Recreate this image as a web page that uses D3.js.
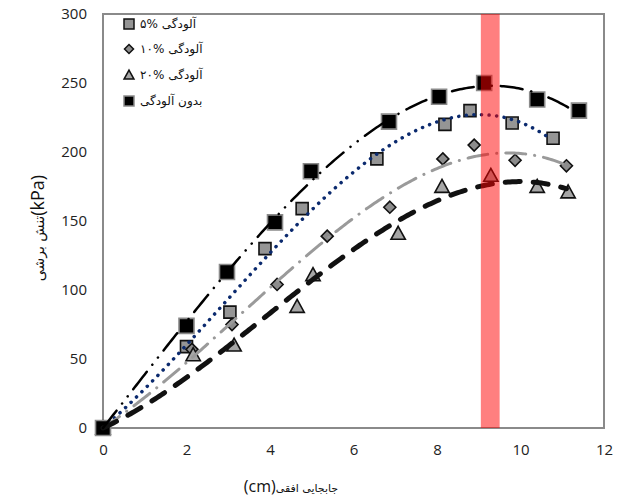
<!DOCTYPE html>
<html><head><meta charset="utf-8">
<script src="https://cdn.jsdelivr.net/npm/d3@7"></script>
<style>body{margin:0;background:#fff}</style></head>
<body><svg id="c" width="629" height="500"></svg>
<script>
const xTicks=[0,2,4,6,8,10,12];
const yTicks=[0,50,100,150,200,250,300];
// legend labels: percentage token (shown left) + words
const seriesPct=["\u06F5%","\u06F1\u06F0%","\u06F2\u06F0%",""];
const seriesWords=["\u0622\u0644\u0648\u062F\u06AF\u06CC","\u0622\u0644\u0648\u062F\u06AF\u06CC","\u0622\u0644\u0648\u062F\u06AF\u06CC","\u0628\u062F\u0648\u0646 \u0622\u0644\u0648\u062F\u06AF\u06CC"];
const x5=[0,2,3.04,3.88,4.77,6.56,8.19,8.79,9.8,10.78];
const y5=[0,59,84,130,159,195,220,230,221,210];
const x10=[0,2.13,3.09,4.17,5.37,6.87,8.14,8.89,9.87,11.1];
const y10=[0,57,75,104,139,160,195,205,194,190];
const x20=[0,2.16,3.14,4.65,5.03,7.07,8.12,9.29,10.4,11.14];
const y20=[0,53,60,88,111,141,175,183,175,171];
const x0=[0,2,2.97,4.12,4.98,6.85,8.05,9.13,10.4,11.4];
const y0=[0,74,113,149,186,222,240,250,238,230];
const band=[9.05,9.5];

const svg=d3.select("#c");
const L=103,R=604,T=14,B=428;
const x=d3.scaleLinear().domain([0,12]).range([L,R]);
const y=d3.scaleLinear().domain([0,300]).range([B,T]);
const tickFont="'Open Sans', 'Liberation Sans', sans-serif";
const faFont="'DejaVu Sans', sans-serif";

const xa=svg.append("g").attr("transform",`translate(0,${B})`)
  .call(d3.axisBottom(x).tickValues(xTicks).tickSize(0).tickPadding(16).tickFormat(d3.format("d")));
const ya=svg.append("g").attr("transform",`translate(${L},0)`)
  .call(d3.axisLeft(y).tickValues(yTicks).tickSize(0).tickPadding(16).tickFormat(d3.format("d")));
[xa,ya].forEach(a=>{a.select(".domain").remove();a.selectAll("text").attr("font-family",tickFont).attr("font-size",15).attr("fill","#222");});

svg.append("rect").attr("x",L).attr("y",T).attr("width",R-L).attr("height",B-T)
  .attr("fill","none").attr("stroke","#8a8a8a").attr("stroke-width",2);

// least-squares polynomial trendline through the origin (powers 1..deg)
function polyfit0(xs,ys,deg){
  const n=deg;const A=[];const b=[];
  for(let i=0;i<n;i++){A.push(new Array(n).fill(0));b.push(0);}
  xs.forEach((xv,k)=>{for(let i=0;i<n;i++){b[i]+=ys[k]*Math.pow(xv,i+1);for(let j=0;j<n;j++)A[i][j]+=Math.pow(xv,i+j+2);}});
  for(let i=0;i<n;i++){let p=i;for(let r=i+1;r<n;r++)if(Math.abs(A[r][i])>Math.abs(A[p][i]))p=r;
    [A[i],A[p]]=[A[p],A[i]];[b[i],b[p]]=[b[p],b[i]];
    for(let r=i+1;r<n;r++){const f=A[r][i]/A[i][i];for(let c=i;c<n;c++)A[r][c]-=f*A[i][c];b[r]-=f*b[i];}}
  const c=new Array(n).fill(0);
  for(let i=n-1;i>=0;i--){let s=b[i];for(let j=i+1;j<n;j++)s-=A[i][j]*c[j];c[i]=s/A[i][i];}
  return xv=>c.reduce((s,ci,i)=>s+ci*Math.pow(xv,i+1),0);
}

const series=[
 {xs:x5,ys:y5,marker:"sq",fill:"#959595",stroke:"#111",size:12,line:{stroke:"#0b2a6e",w:3.5,dash:"0.1 7.5"}},
 {xs:x10,ys:y10,marker:"dia",fill:"#8c8c8c",stroke:"#111",size:12,line:{stroke:"#9a9a9a",w:3,dash:"20 9 0.1 9"}},
 {xs:x20,ys:y20,marker:"tri",fill:"#a6a6a6",stroke:"#111",size:13,line:{stroke:"#111",w:5,dash:"15 13"}},
 {xs:x0,ys:y0,marker:"sq",fill:"#000",stroke:"#8a8a8a",size:15,line:{stroke:"#000",w:2.5,dash:"22 9 0.1 9 0.1 9"}}
];

function markerPath(type,s){
  if(type==="sq")return `M${-s/2},${-s/2}h${s}v${s}h${-s}Z`;
  if(type==="dia")return `M0,${-s/2}L${s/2},0L0,${s/2}L${-s/2},0Z`;
  return `M0,${-s*0.55}L${s*0.55},${s*0.45}L${-s*0.55},${s*0.45}Z`;
}

const mk=svg.append("g");
series.forEach(sr=>{
  mk.append("g").selectAll("path").data(sr.xs.map((v,i)=>[v,sr.ys[i]])).join("path")
    .attr("d",markerPath(sr.marker,sr.size))
    .attr("transform",d=>`translate(${x(d[0])},${y(d[1])})`)
    .attr("fill",sr.fill).attr("stroke",sr.stroke).attr("stroke-width",1.6);
});

const lineGen=d3.line().x(d=>x(d[0])).y(d=>y(d[1]));
series.forEach(sr=>{
  const f=polyfit0(sr.xs,sr.ys,3);
  const xmax=d3.max(sr.xs);
  const pts=d3.range(0,xmax+1e-6,0.05).map(v=>[v,f(v)]);
  svg.append("path").attr("d",lineGen(pts)).attr("fill","none")
    .attr("stroke",sr.line.stroke).attr("stroke-width",sr.line.w)
    .attr("stroke-dasharray",sr.line.dash).attr("stroke-linecap","round");
});

svg.append("rect").attr("x",x(band[0])).attr("width",x(band[1])-x(band[0]))
  .attr("y",T).attr("height",B-T).attr("fill","rgba(255,0,0,0.5)");

const lg=svg.append("g");
const lgY=[24,49,75,101];
series.forEach((sr,i)=>{
  lg.append("path").attr("d",markerPath(sr.marker,sr.marker==="sq"?10:9))
    .attr("transform",`translate(129,${lgY[i]})`)
    .attr("fill",sr.fill).attr("stroke",sr.stroke).attr("stroke-width",1.5);
  let xpos=140;
  if(seriesPct[i]){
    const t=lg.append("text").attr("x",xpos).attr("y",lgY[i]).attr("dy","0.35em")
      .attr("font-family",faFont).attr("font-size",12).attr("fill","#111")
      .attr("direction","ltr").attr("unicode-bidi","bidi-override")
      .style("direction","ltr").style("unicode-bidi","bidi-override").text(seriesPct[i]);
    xpos+=t.node().getComputedTextLength()+4;
  }
  lg.append("text").attr("x",xpos).attr("y",lgY[i]).attr("dy","0.35em")
    .attr("font-family",faFont).attr("font-size",12).attr("fill","#111").text(seriesWords[i]);
});

const xt=svg.append("text").attr("x",291).attr("y",492).attr("text-anchor","middle")
  .attr("direction","rtl").attr("font-family",faFont).attr("fill","#111");
xt.append("tspan").attr("font-size",11).text("جابجایی افقی");
xt.append("tspan").attr("font-size",16).attr("font-family",tickFont).text("(cm)");

const yt=svg.append("text").attr("transform","translate(38,228) rotate(-90)").attr("text-anchor","middle")
  .attr("dy","0.35em").attr("direction","ltr").attr("font-family",faFont).attr("fill","#111");
yt.append("tspan").attr("font-size",14).text("تنش برشی");
yt.append("tspan").attr("font-size",18).attr("font-family",tickFont).text("(kPa)");
</script></body></html>
